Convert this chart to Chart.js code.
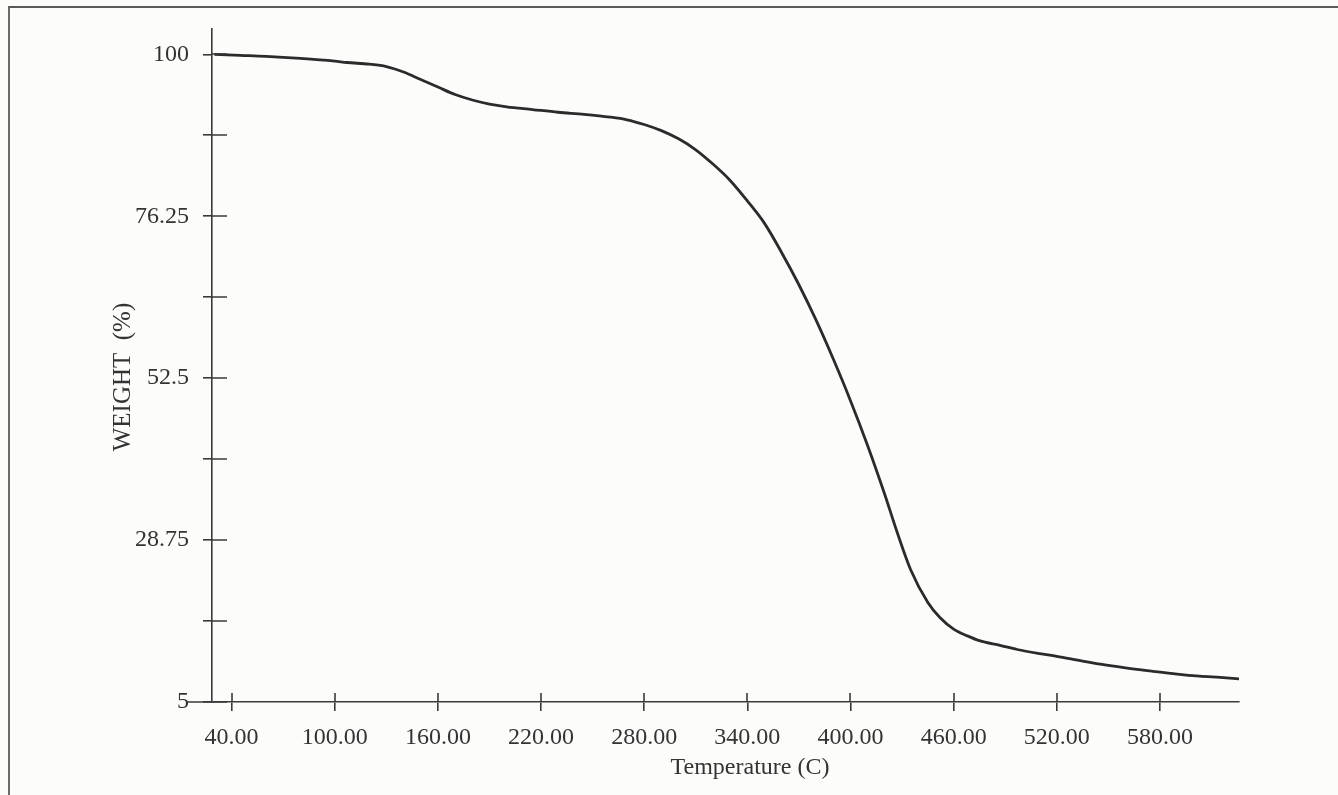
<!DOCTYPE html>
<html><head><meta charset="utf-8">
<script src="https://cdn.jsdelivr.net/npm/chart.js@4.4.1/dist/chart.umd.min.js"></script>
<style>
html,body{margin:0;padding:0;background:#fcfcfb;}
#wrap{position:relative;width:1338px;height:795px;overflow:hidden;}
#frame{position:absolute;left:8px;top:6px;right:-5px;bottom:-5px;border-top:2px solid #5a5a5a;border-left:2px solid #6a6a6a;}
canvas{position:absolute;left:0;top:0;}
</style></head><body>
<div id="wrap"><div id="frame"></div><canvas id="c" width="1338" height="795"></canvas></div>
<script>
// Temperature (C)
const temperature = [30,45,60,80,100,107,120,130,140,150,160,170,180,190,200,215,230,245,260,270,280,290,300,310,320,330,340,350,360,370,380,390,400,410,420,427,435,445,452,460,468,475,487,497,510,520,535,549,563,576,590,603,615,626];
// Weight (%)
const weight = [100.0,99.85,99.7,99.4,99.0,98.8,98.55,98.2,97.4,96.3,95.2,94.1,93.3,92.7,92.3,91.9,91.5,91.2,90.8,90.4,89.7,88.8,87.6,86.0,83.9,81.5,78.5,75.2,70.9,66.2,61.0,55.3,49.2,42.6,35.4,30.0,24.4,19.6,17.4,15.7,14.7,14.0,13.3,12.7,12.1,11.7,11.0,10.4,9.9,9.5,9.1,8.8,8.6,8.4];
const xTickValues = [40,100,160,220,280,340,400,460,520,580];
const yTickValues = [5,16.875,28.75,40.625,52.5,64.375,76.25,88.125,100];
const yLabelValues = [5,28.75,52.5,76.25,100];
const xTitle = 'Temperature (C)';
const yTitle = 'WEIGHT  (%)';

const points = temperature.map((t,i)=>({x:t,y:weight[i]}));
const axisColor = '#3a3a3a';
const fontFam = '"Liberation Serif", "DejaVu Serif", serif';

const extras = {
  id:'extras',
  afterDraw(chart){
    const ctx=chart.ctx, xs=chart.scales.x, ys=chart.scales.y, a=chart.chartArea;
    ctx.save();
    ctx.strokeStyle=axisColor; ctx.lineWidth=1.6;
    ctx.beginPath();
    xs.ticks.forEach(t=>{const px=Math.round(xs.getPixelForValue(t.value)); ctx.moveTo(px,a.bottom); ctx.lineTo(px,a.bottom-9);});
    ys.ticks.forEach(t=>{const py=Math.round(ys.getPixelForValue(t.value)); ctx.moveTo(a.left,py); ctx.lineTo(a.left+15,py);});
    ctx.moveTo(a.left-25,a.bottom); ctx.lineTo(a.left,a.bottom);
    ctx.stroke();
    ctx.fillStyle='#333';
    ctx.textAlign='center'; ctx.textBaseline='middle';
    ctx.font='24px '+fontFam;
    ctx.fillText(xTitle, 750, 768);
    ctx.translate(123, 377); ctx.rotate(-Math.PI/2);
    ctx.font='25px '+fontFam;
    ctx.fillText(yTitle,0,0);
    ctx.restore();
  }
};

new Chart(document.getElementById('c'), {
  type:'line',
  data:{datasets:[{data:points,borderColor:'#2b2b2b',borderWidth:2.8,pointRadius:0,cubicInterpolationMode:'monotone',fill:false}]},
  options:{
    responsive:false, animation:false, devicePixelRatio:1,
    layout:{padding:{left:0,top:26,right:99,bottom:0}},
    plugins:{legend:{display:false},tooltip:{enabled:false}},
    scales:{
      x:{type:'linear',position:'bottom',min:28.6,max:626,
        afterBuildTicks:s=>{s.ticks=xTickValues.map(v=>({value:v}));},
        afterFit:s=>{s.height=93;},
        grid:{drawOnChartArea:false,drawTicks:true,tickLength:9,color:axisColor,lineWidth:1.6},
        border:{display:true,color:axisColor,width:1.6},
        ticks:{autoSkip:false,maxRotation:0,padding:12,color:'#333',font:{family:fontFam,size:24},callback:v=>Number(v).toFixed(2)}
      },
      y:{type:'linear',min:5,max:103.8,
        afterBuildTicks:s=>{s.ticks=yTickValues.map(v=>({value:v}));},
        afterFit:s=>{s.width=212;},
        grid:{drawOnChartArea:false,drawTicks:true,tickLength:9,color:axisColor,lineWidth:1.6},
        border:{display:true,color:axisColor,width:1.6},
        ticks:{autoSkip:false,padding:14,color:'#333',font:{family:fontFam,size:24},callback:v=>yLabelValues.includes(v)?String(v):''}
      }
    }
  },
  plugins:[extras]
});
</script>
</body></html>
